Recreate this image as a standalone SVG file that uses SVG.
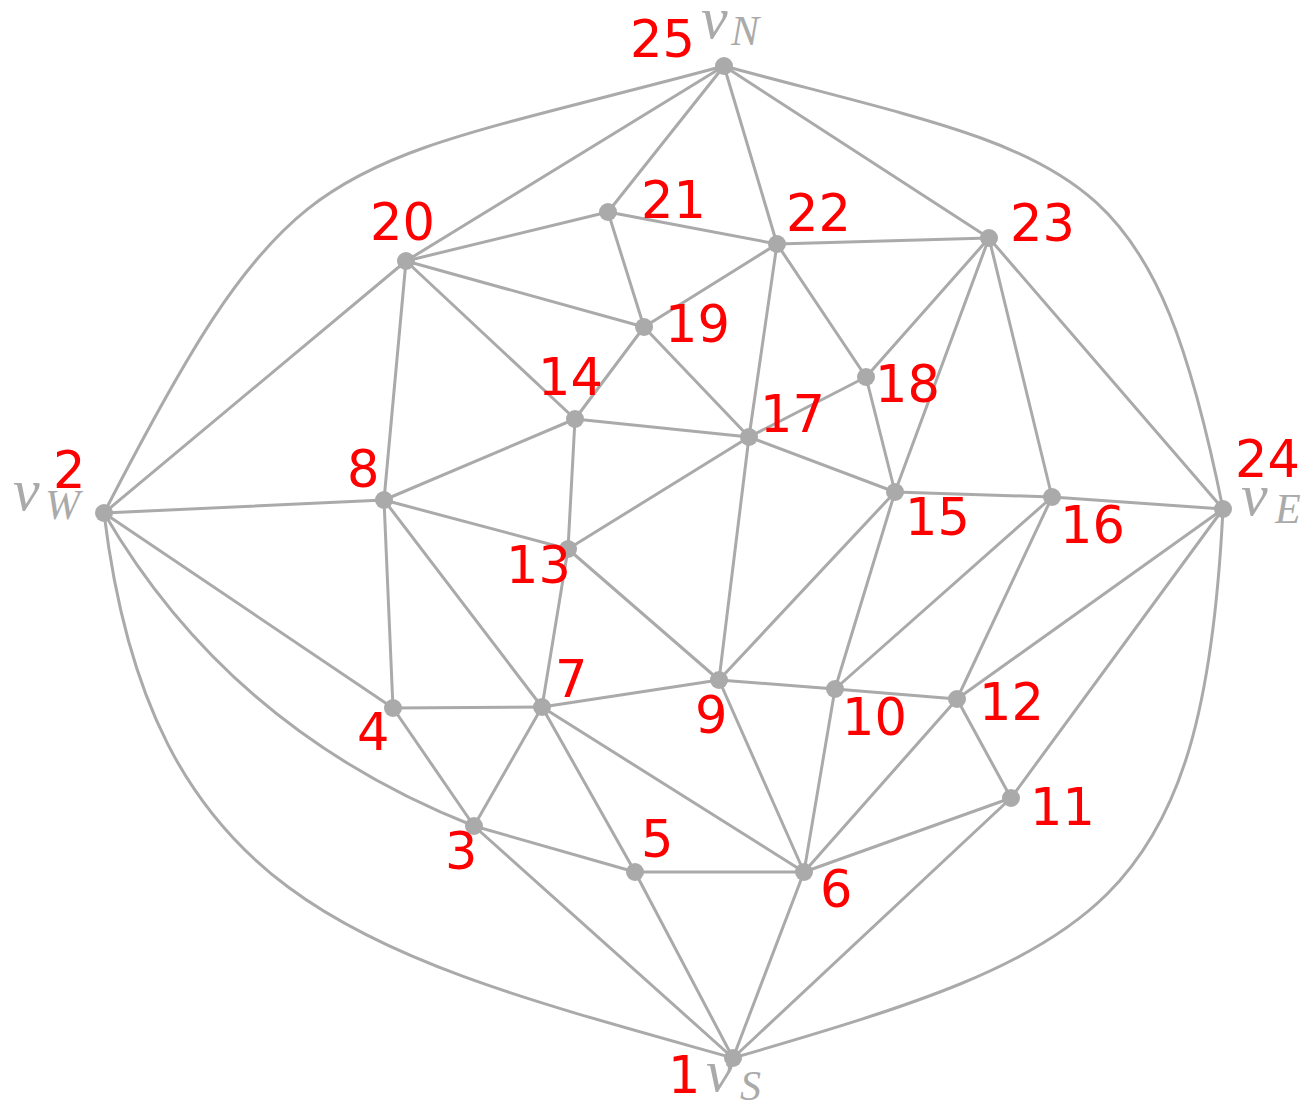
<svg xmlns="http://www.w3.org/2000/svg" width="1312" height="1106" viewBox="0 0 1312 1106">
<style>
.e{stroke:#aaaaaa;stroke-width:3;fill:none;stroke-linecap:round}
.n{fill:#aaaaaa}
.l{font-family:"DejaVu Sans",sans-serif;font-size:51px;fill:#ff0000}
.m{font-family:"Liberation Serif",serif;font-style:italic;fill:#aaaaaa;font-size:60px}
.s{font-size:42px}
</style>
<rect width="1312" height="1106" fill="#ffffff"/>
<g id="edges">
<path class="e" d="M104 513 C297 139 318 175 724 66"/>
<path class="e" d="M724 66 C1078 161 1150 149 1223 509"/>
<path class="e" d="M104 513 C152 909 368 955 733 1058"/>
<path class="e" d="M104 513 Q230 730 474 826"/>
<path class="e" d="M1223 509 C1203 909 1098 952 733 1058"/>
<line class="e" x1="724" y1="66" x2="406" y2="261"/>
<line class="e" x1="724" y1="66" x2="608" y2="212"/>
<line class="e" x1="724" y1="66" x2="777" y2="244"/>
<line class="e" x1="724" y1="66" x2="989" y2="238"/>
<line class="e" x1="406" y1="261" x2="104" y2="513"/>
<line class="e" x1="406" y1="261" x2="608" y2="212"/>
<line class="e" x1="406" y1="261" x2="644" y2="327"/>
<line class="e" x1="406" y1="261" x2="575" y2="419"/>
<line class="e" x1="406" y1="261" x2="384" y2="500"/>
<line class="e" x1="608" y1="212" x2="777" y2="244"/>
<line class="e" x1="608" y1="212" x2="644" y2="327"/>
<line class="e" x1="777" y1="244" x2="989" y2="238"/>
<line class="e" x1="777" y1="244" x2="644" y2="327"/>
<line class="e" x1="777" y1="244" x2="749" y2="437"/>
<line class="e" x1="777" y1="244" x2="866" y2="377"/>
<line class="e" x1="989" y1="238" x2="866" y2="377"/>
<line class="e" x1="989" y1="238" x2="895" y2="492"/>
<line class="e" x1="989" y1="238" x2="1052" y2="497"/>
<line class="e" x1="989" y1="238" x2="1223" y2="509"/>
<line class="e" x1="644" y1="327" x2="575" y2="419"/>
<line class="e" x1="644" y1="327" x2="749" y2="437"/>
<line class="e" x1="575" y1="419" x2="749" y2="437"/>
<line class="e" x1="575" y1="419" x2="384" y2="500"/>
<line class="e" x1="575" y1="419" x2="568" y2="549"/>
<line class="e" x1="749" y1="437" x2="866" y2="377"/>
<line class="e" x1="749" y1="437" x2="895" y2="492"/>
<line class="e" x1="749" y1="437" x2="568" y2="549"/>
<line class="e" x1="749" y1="437" x2="719" y2="680"/>
<line class="e" x1="866" y1="377" x2="895" y2="492"/>
<line class="e" x1="895" y1="492" x2="1052" y2="497"/>
<line class="e" x1="895" y1="492" x2="719" y2="680"/>
<line class="e" x1="895" y1="492" x2="835" y2="689"/>
<line class="e" x1="1052" y1="497" x2="1223" y2="509"/>
<line class="e" x1="1052" y1="497" x2="835" y2="689"/>
<line class="e" x1="1052" y1="497" x2="957" y2="699"/>
<line class="e" x1="1223" y1="509" x2="957" y2="699"/>
<line class="e" x1="1223" y1="509" x2="1011" y2="798"/>
<line class="e" x1="104" y1="513" x2="384" y2="500"/>
<line class="e" x1="104" y1="513" x2="393" y2="708"/>
<line class="e" x1="384" y1="500" x2="568" y2="549"/>
<line class="e" x1="384" y1="500" x2="393" y2="708"/>
<line class="e" x1="384" y1="500" x2="542" y2="707"/>
<line class="e" x1="568" y1="549" x2="542" y2="707"/>
<line class="e" x1="568" y1="549" x2="719" y2="680"/>
<line class="e" x1="542" y1="707" x2="393" y2="708"/>
<line class="e" x1="542" y1="707" x2="719" y2="680"/>
<line class="e" x1="542" y1="707" x2="474" y2="826"/>
<line class="e" x1="542" y1="707" x2="635" y2="872"/>
<line class="e" x1="542" y1="707" x2="804" y2="872"/>
<line class="e" x1="719" y1="680" x2="835" y2="689"/>
<line class="e" x1="719" y1="680" x2="804" y2="872"/>
<line class="e" x1="835" y1="689" x2="957" y2="699"/>
<line class="e" x1="835" y1="689" x2="804" y2="872"/>
<line class="e" x1="957" y1="699" x2="804" y2="872"/>
<line class="e" x1="957" y1="699" x2="1011" y2="798"/>
<line class="e" x1="1011" y1="798" x2="804" y2="872"/>
<line class="e" x1="1011" y1="798" x2="733" y2="1058"/>
<line class="e" x1="393" y1="708" x2="474" y2="826"/>
<line class="e" x1="474" y1="826" x2="635" y2="872"/>
<line class="e" x1="474" y1="826" x2="733" y2="1058"/>
<line class="e" x1="635" y1="872" x2="804" y2="872"/>
<line class="e" x1="635" y1="872" x2="733" y2="1058"/>
<line class="e" x1="804" y1="872" x2="733" y2="1058"/>
</g>
<g id="n1"><circle class="n" cx="733" cy="1058" r="9"/><text class="l" x="668" y="1093">1</text><text class="m" x="706" y="1091">v<tspan class="s" x="740" y="1100">S</tspan></text></g>
<g id="n2"><circle class="n" cx="104" cy="513" r="9"/><text class="l" x="53" y="488">2</text><text class="m" x="13" y="510">v<tspan class="s" x="45" y="519">W</tspan></text></g>
<g id="n3"><circle class="n" cx="474" cy="826" r="9"/><text class="l" x="445" y="869">3</text></g>
<g id="n4"><circle class="n" cx="393" cy="708" r="9"/><text class="l" x="357" y="750">4</text></g>
<g id="n5"><circle class="n" cx="635" cy="872" r="9"/><text class="l" x="641" y="857">5</text></g>
<g id="n6"><circle class="n" cx="804" cy="872" r="9"/><text class="l" x="820" y="907">6</text></g>
<g id="n7"><circle class="n" cx="542" cy="707" r="9"/><text class="l" x="555" y="697">7</text></g>
<g id="n8"><circle class="n" cx="384" cy="500" r="9"/><text class="l" x="347" y="487">8</text></g>
<g id="n9"><circle class="n" cx="719" cy="680" r="9"/><text class="l" x="695" y="733">9</text></g>
<g id="n10"><circle class="n" cx="835" cy="689" r="9"/><text class="l" x="842" y="735">10</text></g>
<g id="n11"><circle class="n" cx="1011" cy="798" r="9"/><text class="l" x="1030" y="825">11</text></g>
<g id="n12"><circle class="n" cx="957" cy="699" r="9"/><text class="l" x="979" y="720">12</text></g>
<g id="n13"><circle class="n" cx="568" cy="549" r="9"/><text class="l" x="506" y="583">13</text></g>
<g id="n14"><circle class="n" cx="575" cy="419" r="9"/><text class="l" x="538" y="395">14</text></g>
<g id="n15"><circle class="n" cx="895" cy="492" r="9"/><text class="l" x="905" y="535">15</text></g>
<g id="n16"><circle class="n" cx="1052" cy="497" r="9"/><text class="l" x="1060" y="543">16</text></g>
<g id="n17"><circle class="n" cx="749" cy="437" r="9"/><text class="l" x="760" y="432">17</text></g>
<g id="n18"><circle class="n" cx="866" cy="377" r="9"/><text class="l" x="875" y="402">18</text></g>
<g id="n19"><circle class="n" cx="644" cy="327" r="9"/><text class="l" x="665" y="342">19</text></g>
<g id="n20"><circle class="n" cx="406" cy="261" r="9"/><text class="l" x="370" y="240">20</text></g>
<g id="n21"><circle class="n" cx="608" cy="212" r="9"/><text class="l" x="641" y="218">21</text></g>
<g id="n22"><circle class="n" cx="777" cy="244" r="9"/><text class="l" x="786" y="231">22</text></g>
<g id="n23"><circle class="n" cx="989" cy="238" r="9"/><text class="l" x="1010" y="241">23</text></g>
<g id="n24"><circle class="n" cx="1223" cy="509" r="9"/><text class="l" x="1235" y="477">24</text><text class="m" x="1241" y="515">v<tspan class="s" x="1275" y="523">E</tspan></text></g>
<g id="n25"><circle class="n" cx="724" cy="66" r="9"/><text class="l" x="630" y="57">25</text><text class="m" x="701" y="38">v<tspan class="s" x="731" y="45">N</tspan></text></g>
</svg>
